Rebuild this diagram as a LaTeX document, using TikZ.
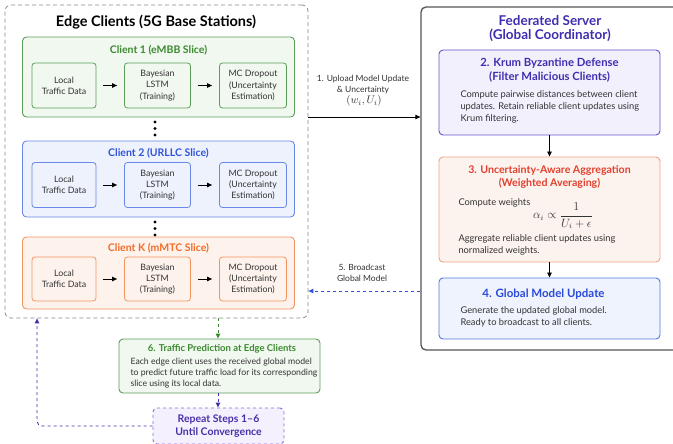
\documentclass[tikz,border=0pt]{standalone}
\usepackage{fontspec}
\setmainfont{Lato}
\usetikzlibrary{arrows.meta}
\definecolor{gbd}{HTML}{5A9E5A}\definecolor{gfl}{HTML}{F1F8F0}\definecolor{gtx}{HTML}{3A8A2E}
\definecolor{bbd}{HTML}{6A88E8}\definecolor{bfl}{HTML}{EEF2FC}\definecolor{btx}{HTML}{2F54D8}
\definecolor{obd}{HTML}{F29460}\definecolor{ofl}{HTML}{FEF3EC}\definecolor{otx}{HTML}{F06B28}
\definecolor{kbd}{HTML}{6355D0}\definecolor{kfl}{HTML}{F2F0FD}\definecolor{ktx}{HTML}{3F2EB0}
\definecolor{abd}{HTML}{F0A383}\definecolor{afl}{HTML}{FDF3EE}\definecolor{atx}{HTML}{E2402E}
\definecolor{glbd}{HTML}{5577E0}\definecolor{glfl}{HTML}{EEF3FD}\definecolor{gltx}{HTML}{2A4AD8}
\definecolor{rbd}{HTML}{8A6AD8}\definecolor{rfl}{HTML}{F4F0FD}\definecolor{rtx}{HTML}{4A30A8}
\definecolor{bodytx}{HTML}{333333}
\definecolor{edgegray}{HTML}{8A8A8A}
\definecolor{servgray}{HTML}{555555}
\begin{document}
\begin{tikzpicture}[x=1pt,y=-1pt,
  box/.style={draw=#1bd, fill=#1fl, rounded corners=4pt, line width=0.9pt, inner sep=0pt},
  inbox/.style={draw=#1bd, fill=#1fl, rounded corners=3pt, line width=0.8pt, inner sep=0pt,
     minimum height=45pt, align=center, text=bodytx, font=\fontsize{8.8}{11.3}\selectfont},
  ctitle/.style={text=#1tx, font=\bfseries\fontsize{10.5}{12}\selectfont},
  btitle/.style={text=#1, font=\bfseries\fontsize{11.3}{14}\selectfont, align=center},
  body/.style={text=bodytx, font=\fontsize{9.3}{12}\selectfont, align=left, anchor=west},
  arr/.style={-{Triangle[length=5pt,width=4.5pt]}, line width=0.9pt},
  dotn/.style={circle, fill=black, inner sep=0pt, minimum size=3.2pt},
  lbl/.style={font=\fontsize{8.5}{11}\selectfont, text=bodytx, align=center}
]
\useasboundingbox (0,0) rectangle (673,444);
\clip (0,0) rectangle (673,444);
\fill[white] (0,0) rectangle (673,444);

% Edge clients container
\node[draw=edgegray, dash pattern=on 4pt off 3pt, line width=0.8pt, rounded corners=6pt, minimum width=303pt, minimum height=313pt, inner sep=0pt] (edge) at (156.5,161.5) {};
\node[font=\bfseries\fontsize{14.5}{16}\selectfont] (edgetitle) at (156,22) {Edge Clients (5G Base Stations)};

% Client 1
\node[box=g, minimum width=272pt, minimum height=80pt] (c1) at (158.5,77) {};
\node[ctitle=g] (c1t) at (158.5,50) {Client 1 (eMBB Slice)};
\node[inbox=g, minimum width=64pt] (l1) at (64,85.5) {Local\\Traffic Data};
\node[inbox=g, minimum width=66pt] (b1) at (157.5,85.5) {Bayesian\\LSTM\\(Training)};
\node[inbox=g, minimum width=67pt] (m1) at (253,85.5) {MC Dropout\\(Uncertainty\\Estimation)};
\draw[arr, shorten <=7pt, shorten >=7pt] (l1) -- (b1);
\draw[arr, shorten <=7pt, shorten >=7pt] (b1) -- (m1);

\node[dotn] (d1a) at (155,122) {};
\node[dotn] (d1b) at (155,128.5) {};
\node[dotn] (d1c) at (155,135) {};

% Client 2
\node[box=b, minimum width=272pt, minimum height=76pt] (c2) at (158.5,179) {};
\node[ctitle=b] (c2t) at (158.5,153) {Client 2 (URLLC Slice)};
\node[inbox=b, minimum width=64pt] (l2) at (64,185) {Local\\Traffic Data};
\node[inbox=b, minimum width=66pt] (b2) at (157.5,185) {Bayesian\\LSTM\\(Training)};
\node[inbox=b, minimum width=67pt] (m2) at (253,185) {MC Dropout\\(Uncertainty\\Estimation)};
\draw[arr, shorten <=7pt, shorten >=7pt] (l2) -- (b2);
\draw[arr, shorten <=7pt, shorten >=7pt] (b2) -- (m2);

\node[dotn] (d2a) at (155,222) {};
\node[dotn] (d2b) at (155,228.5) {};
\node[dotn] (d2c) at (155,235) {};

% Client K
\node[box=o, minimum width=272pt, minimum height=72pt] (ck) at (158.5,273) {};
\node[ctitle=o] (ckt) at (158.5,248) {Client K (mMTC Slice)};
\node[inbox=o, minimum width=64pt, minimum height=44pt] (lk) at (64,279) {Local\\Traffic Data};
\node[inbox=o, minimum width=66pt, minimum height=44pt] (bk) at (157.5,279) {Bayesian\\LSTM\\(Training)};
\node[inbox=o, minimum width=67pt, minimum height=44pt] (mk) at (253,279) {MC Dropout\\(Uncertainty\\Estimation)};
\draw[arr, shorten <=7pt, shorten >=7pt] (lk) -- (bk);
\draw[arr, shorten <=7pt, shorten >=7pt] (bk) -- (mk);

% Server
\node[draw=servgray, fill=white, line width=1.3pt, rounded corners=5pt, minimum width=269pt, minimum height=343pt, inner sep=0pt] (server) at (555.5,178.5) {};
\node[btitle=ktx, font=\bfseries\fontsize{13.5}{13.5}\selectfont] (servt) at (550,28.5) {Federated Server\\(Global Coordinator)};

% Krum
\node[box=k, minimum width=221pt, minimum height=85pt] (krum) at (549.5,92.5) {};
\node[btitle=ktx] (krumt) at (549.5,70) {2. Krum Byzantine Defense\\(Filter Malicious Clients)};
\node[body] (krumb) at (457,107) {Compute pairwise distances between client\\updates. Retain reliable client updates using\\Krum filtering.};

% Aggregation
\node[box=a, minimum width=221pt, minimum height=105pt] (agg) at (549.5,209.5) {};
\node[btitle=atx, font=\bfseries\fontsize{10.6}{12.5}\selectfont] (aggt) at (549.5,177) {3. Uncertainty-Aware Aggregation\\(Weighted Averaging)};
\node[body] (aggb1) at (455,203) {Compute weights};
\node[text=bodytx, font=\fontsize{12}{14}\selectfont] (aggf) at (563,216) {$\displaystyle \alpha_i \propto \frac{1}{U_i+\epsilon}$};
\node[body] (aggb2) at (455,245) {Aggregate reliable client updates using\\normalized weights.};

% Global model update
\node[box=gl, minimum width=221pt, minimum height=61pt] (glob) at (549.5,308.5) {};
\node[btitle=gltx, font=\bfseries\fontsize{11.5}{13}\selectfont] (globt) at (543.5,294) {4. Global Model Update};
\node[body] (globb) at (457,317) {Generate the updated global model.\\Ready to broadcast to all clients.};

\draw[arr, line width=0.8pt] (krum.south) -- (agg.north);
\draw[arr, line width=0.8pt] (agg.south) -- (glob.north);

% Upload arrow
\coordinate (upy) at (0,117);
\draw[arr] (edge.east |- upy) -- (server.west |- upy);
\node[lbl] (uplbl) at (363,85) {1. Upload Model Update\\\& Uncertainty};
\node[lbl, font=\fontsize{11}{12}\selectfont] (upmath) at (364,101) {$(w_i, U_i)$};

% Broadcast arrow
\coordinate (bcy) at (0,291);
\draw[arr, dashed, draw=btx, color=btx] (server.west |- bcy) -- (edge.east |- bcy);
\node[lbl] (bclbl) at (362,273) {5. Broadcast\\Global Model};

% Prediction
\node[box=g, minimum width=201pt, minimum height=54pt] (pred) at (219.5,366) {};
\node[text=gtx, font=\bfseries\fontsize{9.5}{11}\selectfont] (predt) at (222,349) {6. Traffic Prediction at Edge Clients};
\node[body, font=\fontsize{8.7}{11}\selectfont] (predb) at (127,373) {Each edge client uses the received global model\\to predict future traffic load for its corresponding\\slice using its local data.};
\coordinate (px) at (218,0);
\draw[arr, dashed, draw=gtx, color=gtx] (edge.south -| px) -- (pred.north -| px);

% Repeat
\node[draw=rbd, fill=rfl, dashed, line width=0.9pt, rounded corners=4pt, minimum width=131pt, minimum height=36pt, inner sep=0pt] (rep) at (218.5,426) {};
\node[text=rtx, font=\bfseries\fontsize{10.5}{12.5}\selectfont, align=center] (rept) at (218.5,426) {Repeat Steps 1--6\\Until Convergence};
\draw[arr, dashed, draw=rtx, color=rtx] (pred.south -| px) -- (rep.north -| px);
\coordinate (lx) at (37,0);
\draw[arr, dashed, draw=rbd, color=rtx, rounded corners=5pt] (rep.west) -| (edge.south -| lx);
\end{tikzpicture}
\end{document}
